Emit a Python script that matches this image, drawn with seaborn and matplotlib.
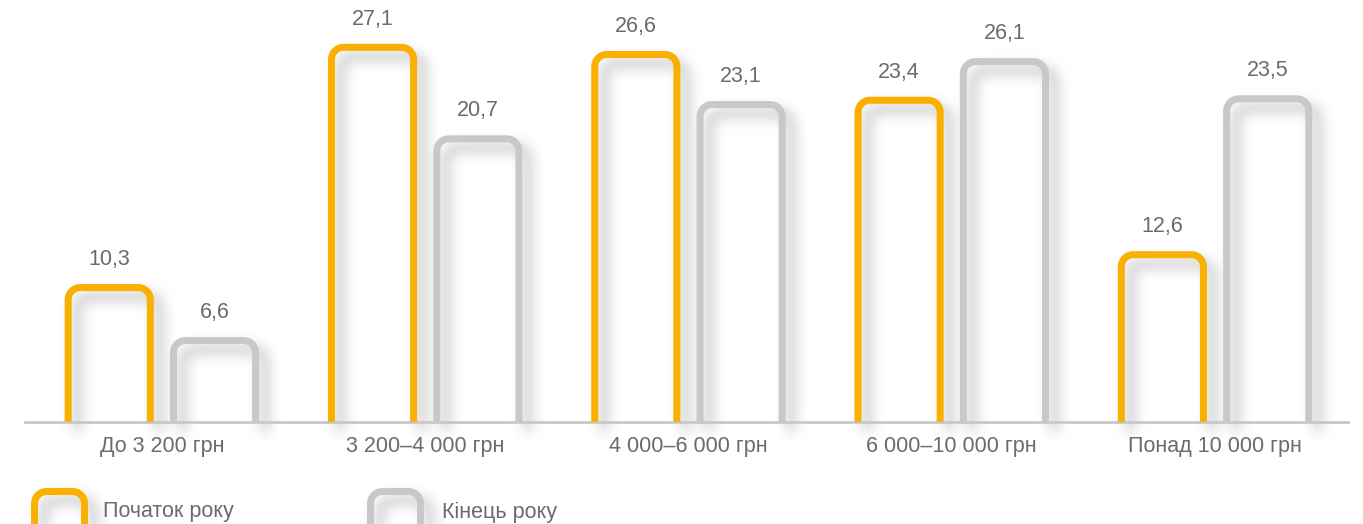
import numpy as np
import pandas as pd
import seaborn as sns
import matplotlib.pyplot as plt
from matplotlib.path import Path
from matplotlib.patches import PathPatch

# Data
categories = ['До 3 200 грн', '3 200–4 000 грн', '4 000–6 000 грн',
              '6 000–10 000 грн', 'Понад 10 000 грн']
start_year = [10.3, 27.1, 26.6, 23.4, 12.6]
end_year = [6.6, 20.7, 23.1, 26.1, 23.5]
series_names = ['Початок року', 'Кінець року']

ORANGE = '#F9B000'
GRAY = '#C8C8C8'
TEXT = '#6B6B6B'

df = pd.DataFrame({
    'cat': categories * 2,
    'val': start_year + end_year,
    'period': [series_names[0]] * 5 + [series_names[1]] * 5,
})

sns.set_style('white')
plt.rcParams['font.family'] = ['Liberation Sans', 'DejaVu Sans']

W, H = 1363, 524
fig = plt.figure(figsize=(W / 100, H / 100), dpi=100)
ax = fig.add_axes([25 / W, 102 / H, (1348 - 25) / W, 1 - 102 / H])

sns.barplot(data=df, x='cat', y='val', hue='period', order=categories,
            hue_order=series_names, palette=[ORANGE, GRAY], saturation=1,
            width=0.8, gap=0.22, legend=False, ax=ax)

ax.set_xlim(-0.52, 4.505)
ax.set_ylim(0.90, 30.41)


def soft_shadow(img, dpi, dx=9, dy=9, sigma=6.5, pad=45, strength=0.6):
    # blurred, offset grey copy of whatever the artist drew
    alpha = np.pad(img[..., 3], pad)
    r = int(3 * sigma)
    k = np.exp(-0.5 * (np.arange(-r, r + 1) / sigma) ** 2)
    k /= k.sum()
    alpha = np.apply_along_axis(lambda m: np.convolve(m, k, mode='same'), 0, alpha)
    alpha = np.apply_along_axis(lambda m: np.convolve(m, k, mode='same'), 1, alpha)
    alpha = np.roll(np.roll(alpha, dy, axis=0), dx, axis=1)
    out = np.zeros(alpha.shape + (4,))
    out[..., :3] = 0.55
    out[..., 3] = np.clip(alpha * strength, 0, 1)
    return out, -pad, -pad


def rounded_top(x0, x1, y0, y1, rx, ry):
    c = 0.5523
    verts = [(x0, y0), (x0, y1 - ry),
             (x0, y1 - ry + c * ry), (x0 + rx - c * rx, y1), (x0 + rx, y1),
             (x1 - rx, y1),
             (x1 - rx + c * rx, y1), (x1, y1 - ry + c * ry), (x1, y1 - ry),
             (x1, y0)]
    codes = [Path.MOVETO, Path.LINETO,
             Path.CURVE4, Path.CURVE4, Path.CURVE4,
             Path.LINETO,
             Path.CURVE4, Path.CURVE4, Path.CURVE4,
             Path.LINETO]
    return Path(verts, codes)


def draw_outline(axis, path, color, lw=7):
    shadow = PathPatch(path, fill=False, edgecolor='k', lw=lw * 0.72, zorder=1)
    shadow.set_agg_filter(soft_shadow)
    axis.add_patch(shadow)
    axis.add_patch(PathPatch(path, fill=False, edgecolor=color, lw=lw * 0.72,
                             capstyle='butt', joinstyle='round', zorder=3))


# pixel size of one data unit, for round corners
px_x = (1348 - 25) / (4.505 + 0.52)
px_y = (H - 102) / (30.41 - 0.90)
radius = 12

for p in list(ax.patches):
    x0, w, h = p.get_x(), p.get_width(), p.get_height()
    color = p.get_facecolor()
    p.set_visible(False)
    draw_outline(ax, rounded_top(x0, x0 + w, 0, h, radius / px_x, radius / px_y), color)
    ax.annotate(f'{h:.1f}'.replace('.', ','), (x0 + w / 2, h),
                xytext=(0, 12.6), textcoords='offset points', ha='center',
                va='bottom', fontsize=15.5, color=TEXT)

for s in ['top', 'left', 'right']:
    ax.spines[s].set_visible(False)
ax.spines['bottom'].set_color('#C8C8C8')
ax.spines['bottom'].set_linewidth(2)
ax.set_yticks([])
ax.set_xlabel('')
ax.set_ylabel('')
ax.tick_params(axis='x', length=0, pad=10, labelsize=15.5, labelcolor=TEXT)

# legend keys drawn in figure pixel space
leg = fig.add_axes([0, 0, 1, 1], zorder=5)
leg.set_xlim(0, W)
leg.set_ylim(H, 0)
leg.axis('off')
leg.patch.set_alpha(0)
for x0, color, name, tx in [(34.5, ORANGE, series_names[0], 103),
                            (370.5, GRAY, series_names[1], 442)]:
    draw_outline(leg, rounded_top(x0, x0 + 50, 545, 491.5, 12, -12), color)
    leg.text(tx, 512, name, fontsize=15.5, color=TEXT, va='center', ha='left')

fig.savefig('out.png', dpi=100)
